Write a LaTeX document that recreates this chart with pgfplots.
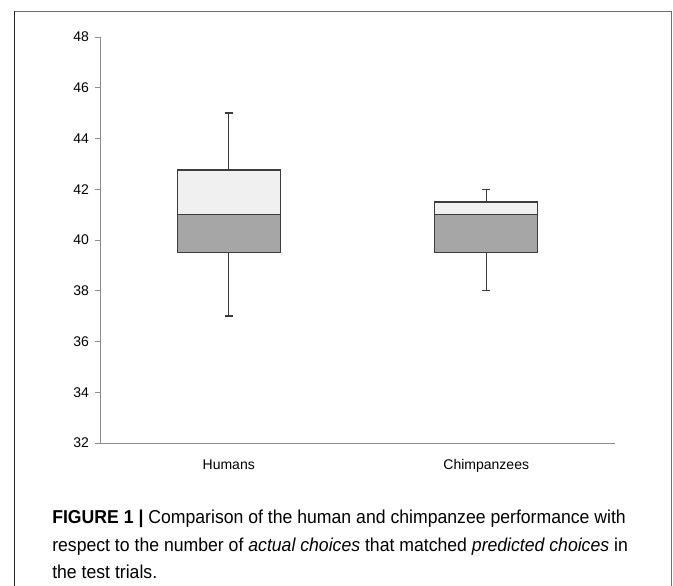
\documentclass[border=0pt]{standalone}
\usepackage{pgfplots}
\pgfplotsset{compat=1.18}
\usepackage{fontspec}
\setmainfont{Liberation Sans}
\definecolor{boxlo}{HTML}{A6A6A6}
\definecolor{boxhi}{HTML}{F0F0F0}
\definecolor{boxline}{HTML}{3C3C3C}
\definecolor{axline}{HTML}{8C8C8C}
\definecolor{frame}{HTML}{6E6E6E}
\definecolor{frameleft}{HTML}{252525}
\begin{document}
\begin{tikzpicture}[x=0.75pt,y=0.75pt]
\useasboundingbox (0,0) rectangle (673,585);
\draw[frame, line width=1.3pt] (14.5,573.5) -- (671.5,573.5) -- (671.5,-5);
\draw[frameleft, line width=1.3pt] (14.5,-5) -- (14.5,574.2);
\begin{axis}[
  at={(75pt,106.5pt)}, anchor=south west,
  scale only axis, width=386.25pt, height=304.5pt,
  xmin=0.5, xmax=2.5, ymin=32, ymax=48,
  axis x line=bottom, axis y line=left,
  axis line style={-, axline, line width=0.6pt},
  ytick={32,34,...,48},
  xtick={1,2}, xticklabels={Humans,Chimpanzees},
  x tick style={draw=none},
  y tick style={axline, line width=0.6pt},
  tick align=outside, major tick length=3.75pt,
  extra x ticks={0.5,1.5,2.5}, extra x tick labels={},
  extra x tick style={tick style={draw=axline, line width=0.6pt}, major tick length=3.75pt},
  ticklabel style={font=\fontsize{10.5}{12}\selectfont, text=black},
  xticklabel style={yshift=-5pt},
  yticklabel style={xshift=-1pt},
  /pgf/number format/assume math mode=true,
  clip=false,
]
% upper whiskers (Q3 to max)
\addplot[draw=none, mark=none,
  error bars/.cd, y dir=plus, y explicit,
  error bar style={boxline, line width=1.1pt},
  error mark options={boxline, mark size=3pt, line width=1.1pt, rotate=90}]
  coordinates {(1,42.75) +- (0,2.25) (2,41.5) +- (0,0.5)};
% lower whiskers (min to Q1)
\addplot[draw=none, mark=none,
  error bars/.cd, y dir=minus, y explicit,
  error bar style={boxline, line width=1.1pt},
  error mark options={boxline, mark size=3pt, line width=1.1pt, rotate=90}]
  coordinates {(1,39.5) +- (0,2.5) (2,39.5) +- (0,1.5)};
% lower boxes (Q1 to median)
\addplot[fill=boxlo, draw=boxline, line width=1.1pt] coordinates {(0.8,39.5) (1.2,39.5) (1.2,41) (0.8,41)} -- cycle;
\addplot[fill=boxlo, draw=boxline, line width=1.1pt] coordinates {(1.8,39.5) (2.2,39.5) (2.2,41) (1.8,41)} -- cycle;
% upper boxes (median to Q3)
\addplot[fill=boxhi, draw=boxline, line width=1.1pt] coordinates {(0.8,41) (1.2,41) (1.2,42.75) (0.8,42.75)} -- cycle;
\addplot[fill=boxhi, draw=boxline, line width=1.1pt] coordinates {(1.8,41) (2.2,41) (2.2,41.5) (1.8,41.5)} -- cycle;
\end{axis}
\begin{scope}[every node/.style={anchor=base west, inner sep=0pt, font=\fontsize{14}{16}\selectfont\addfontfeature{FakeStretch=0.945}}]
\node at (52,62) {\textbf{FIGURE 1 |} Comparison of the human and chimpanzee performance with};
\node at (52,34) {respect to the number of \textit{actual choices} that matched \textit{predicted choices} in};
\node at (52,7) {the test trials.};
\end{scope}
\end{tikzpicture}
\end{document}
